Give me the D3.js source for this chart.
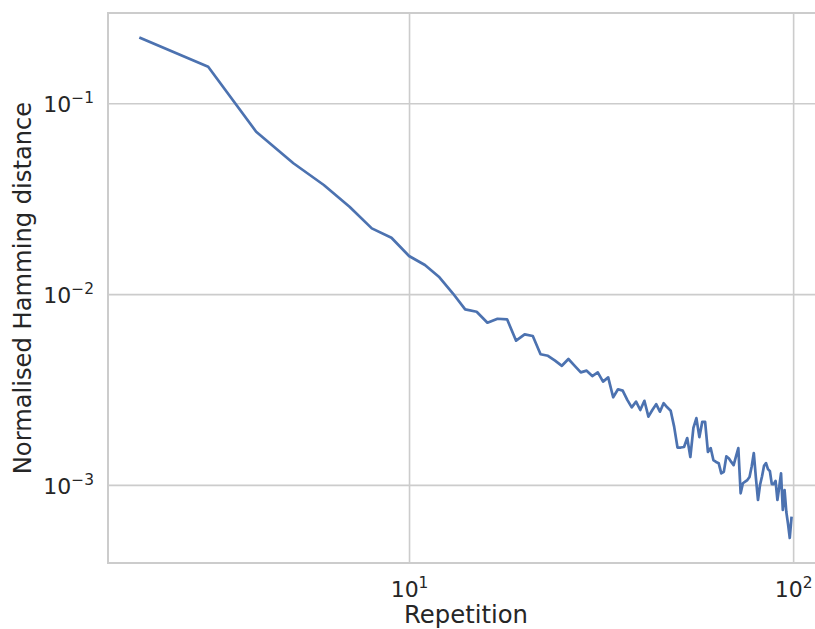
<!DOCTYPE html>
<html><head><meta charset="utf-8">
<script src="https://cdn.jsdelivr.net/npm/d3@7"></script>
<style>body{margin:0;background:#fff} svg{display:block}</style>
</head><body>
<svg id="chart" width="815" height="629"></svg>
<script>
const repetitions = [2,3,4,5,6,7,8,9,10,11,12,13,14,15,16,17,18,19,20,21,22,23,24,25,26,27,28,29,30,31,32,33,34,35,36,37,38,39,40,41,42,43,44,45,46,47,48,49,50,51,52,53,54,55,56,57,58,59,60,61,62,63,64,65,66,67,68,69,70,71,72,73,74,75,76,77,78,79,80,81,82,83,84,85,86,87,88,89,90,91,92,93,94,95,96,97,98,99];
const hammingDistance = [0.2199,0.1555,0.0710,0.0485,0.0373,0.0287,0.0221,0.01975,0.01584,0.01421,0.01225,0.01010,0.00832,0.00808,0.00708,0.00743,0.00738,0.00570,0.00615,0.00603,0.00484,0.00475,0.00448,0.00421,0.00457,0.00421,0.00389,0.00397,0.00372,0.00389,0.00348,0.00366,0.00288,0.00317,0.00312,0.00279,0.00255,0.00273,0.00247,0.00276,0.00228,0.00247,0.00265,0.00242,0.00268,0.00255,0.00245,0.00202,0.00157,0.00157,0.00158,0.00176,0.00140,0.00199,0.00224,0.00178,0.00214,0.00214,0.00149,0.00156,0.00135,0.00132,0.00130,0.00115,0.00117,0.00141,0.00138,0.00132,0.00127,0.00141,0.00156,0.000904,0.00102,0.00104,0.00106,0.00110,0.00125,0.00147,0.00109,0.000834,0.000999,0.00111,0.00126,0.00130,0.00121,0.00118,0.00101,0.00101,0.00105,0.000834,0.000975,0.00115,0.000739,0.000940,0.000721,0.000624,0.000527,0.000671];
const xTickValues = [10, 100];
const xTickExponents = ["1", "2"];
const yTickValues = [0.001, 0.01, 0.1];
const yTickExponents = ["\u22123", "\u22122", "\u22121"];
const xLabel = "Repetition";
const yLabel = "Normalised Hamming distance";

(function () {
const svg = d3.select("#chart");
const mLeft = 108, mTop = 13, mBottom = 563, mRight = 824;
const font = "'DejaVu Sans', sans-serif";
const grey = "#cccccc", textCol = "#262626";
const tickFs = 22, supFs = 15.4;

function logDomain(vals) {
  const [a, b] = d3.extent(vals).map(Math.log10);
  const m = 0.05 * (b - a);
  return [Math.pow(10, a - m), Math.pow(10, b + m)];
}
const x = d3.scaleLog().domain(logDomain(repetitions)).range([mLeft, mRight]);
const y = d3.scaleLog().domain(logDomain(hammingDistance)).range([mBottom, mTop]);

// grid
const gx = svg.append("g").attr("transform", `translate(0,${mBottom})`)
  .call(d3.axisBottom(x).tickValues(xTickValues).tickSize(-(mBottom - mTop)).tickFormat(""));
gx.select(".domain").remove();
gx.selectAll("line").attr("stroke", grey).attr("stroke-width", 1.6);
const gy = svg.append("g").attr("transform", `translate(${mLeft},0)`)
  .call(d3.axisLeft(y).tickValues(yTickValues).tickSize(-(mRight - mLeft)).tickFormat(""));
gy.select(".domain").remove();
gy.selectAll("line").attr("stroke", grey).attr("stroke-width", 1.6);

// spines
svg.append("rect").attr("x", mLeft).attr("y", mTop).attr("width", mRight - mLeft).attr("height", mBottom - mTop)
  .attr("fill", "none").attr("stroke", grey).attr("stroke-width", 2);

// tick labels
const ax = svg.append("g").attr("transform", `translate(0,${mBottom})`)
  .call(d3.axisBottom(x).tickValues(xTickValues).tickSize(0).tickPadding(0).tickFormat(() => ""));
ax.select(".domain").remove();
ax.selectAll("text").each(function(d, i) {
  const t = d3.select(this).attr("y", 34).attr("dy", null)
    .attr("font-family", font).attr("font-size", tickFs).attr("fill", textCol).attr("text-anchor", "middle");
  t.append("tspan").text("10");
  t.append("tspan").attr("dy", -9).attr("font-size", supFs).text(xTickExponents[i]);
});
const ay = svg.append("g").attr("transform", `translate(${mLeft},0)`)
  .call(d3.axisLeft(y).tickValues(yTickValues).tickSize(0).tickPadding(0).tickFormat(() => ""));
ay.select(".domain").remove();
ay.selectAll("text").each(function(d, i) {
  const t = d3.select(this).attr("x", -14).attr("dy", null).attr("y", 8.5)
    .attr("font-family", font).attr("font-size", tickFs).attr("fill", textCol).attr("text-anchor", "end");
  t.append("tspan").text("10");
  t.append("tspan").attr("dy", -9).attr("font-size", supFs).text(yTickExponents[i]);
});

// line
const line = d3.line().x((d, i) => x(repetitions[i])).y(d => y(d));
svg.append("path").datum(hammingDistance).attr("d", line)
  .attr("fill", "none").attr("stroke", "#4c72b0").attr("stroke-width", 2.7)
  .attr("stroke-linejoin", "round").attr("stroke-linecap", "square");

// axis labels
svg.append("text").attr("y", 623)
  .attr("x", x(Math.sqrt(repetitions[0] * repetitions[repetitions.length - 1])))
  .attr("text-anchor", "middle").attr("font-family", font).attr("font-size", 24.3).attr("fill", textCol).text(xLabel);
svg.append("text").attr("transform", `translate(31,${(mTop + mBottom) / 2}) rotate(-90)`)
  .attr("text-anchor", "middle").attr("font-family", font).attr("font-size", 24.2).attr("fill", textCol).text(yLabel);
})();
</script>
</body></html>
